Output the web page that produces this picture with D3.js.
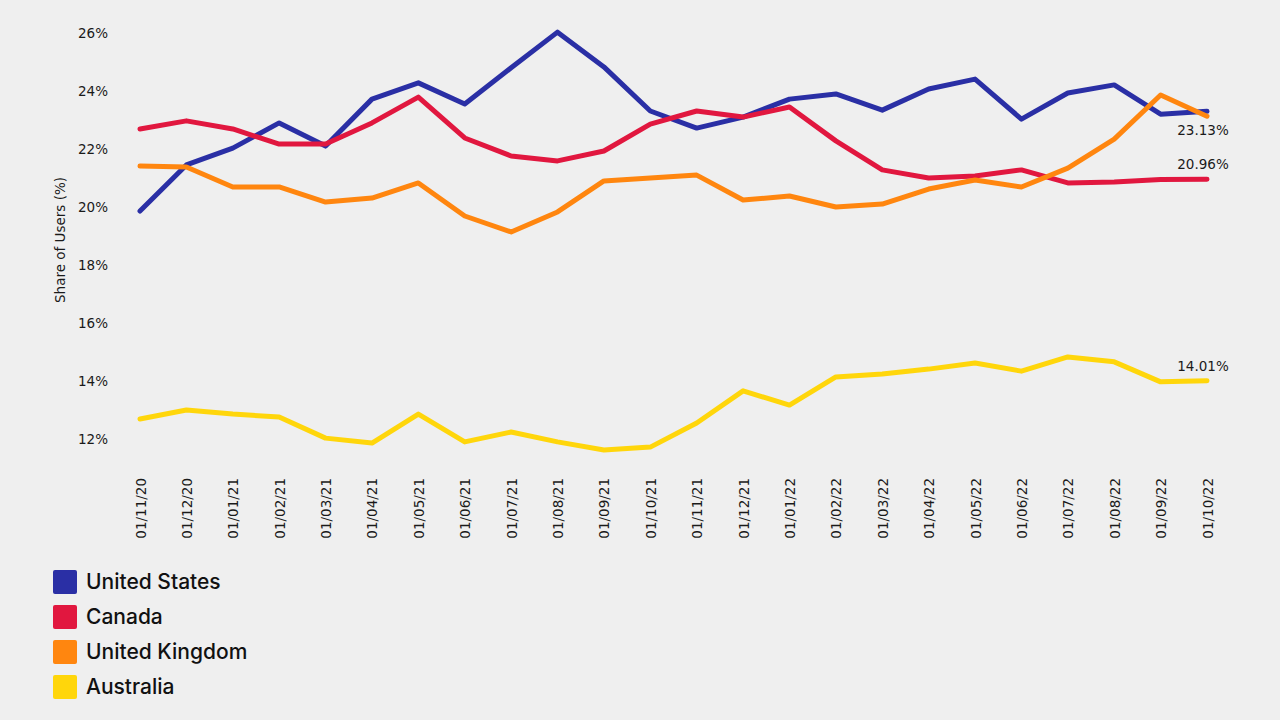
<!DOCTYPE html>
<html>
<head>
<meta charset="utf-8">
<script src="https://cdn.jsdelivr.net/npm/d3@7"></script>
<style>
  html, body { margin: 0; padding: 0; background: #efefef; }
  svg { display: block; }
</style>
</head>
<body>
<div id="chart"></div>
<script>
// monthly share of users by country
const months = ["01/11/20", "01/12/20", "01/01/21", "01/02/21", "01/03/21", "01/04/21",
  "01/05/21", "01/06/21", "01/07/21", "01/08/21", "01/09/21", "01/10/21", "01/11/21",
  "01/12/21", "01/01/22", "01/02/22", "01/03/22", "01/04/22", "01/05/22", "01/06/22",
  "01/07/22", "01/08/22", "01/09/22", "01/10/22"];

const unitedStates = [19.86, 21.45, 22.03, 22.9, 22.1, 23.72, 24.28, 23.55, 24.8, 26.03,
  24.83, 23.31, 22.72, 23.1, 23.72, 23.9, 23.34, 24.07, 24.41, 23.03, 23.93, 24.21, 23.2, 23.3];
const canada = [22.69, 22.97, 22.69, 22.17, 22.17, 22.9, 23.79, 22.38, 21.76, 21.59,
  21.93, 22.86, 23.31, 23.1, 23.45, 22.28, 21.28, 21.0, 21.07, 21.28, 20.83, 20.86, 20.95, 20.96];
const unitedKingdom = [21.41, 21.38, 20.69, 20.69, 20.17, 20.31, 20.83, 19.69, 19.14, 19.83,
  20.9, 21.0, 21.1, 20.24, 20.38, 20.0, 20.1, 20.62, 20.93, 20.69, 21.34, 22.34, 23.86, 23.13];
const australia = [12.69, 13.0, 12.86, 12.76, 12.03, 11.86, 12.86, 11.9, 12.24, 11.9,
  11.62, 11.72, 12.55, 13.66, 13.17, 14.14, 14.24, 14.41, 14.62, 14.34, 14.83, 14.66, 13.97, 14.01];

const seriesNames = ["United States", "Canada", "United Kingdom", "Australia"];
const seriesColors = ["#2a2fa5", "#e1173f", "#ff860f", "#ffd60b"];
const yTicks = [12, 14, 16, 18, 20, 22, 24, 26];
const endLabels = ["23.13%", "20.96%", "14.01%"];

const width = 1280, height = 720;
const series = [unitedStates, canada, unitedKingdom, australia];

const svg = d3.select("#chart")
  .append("svg")
  .attr("width", width)
  .attr("height", height);

const x = d3.scalePoint()
  .domain(months)
  .range([140, 1207]);

const y = d3.scaleLinear()
  .domain([12, 26])
  .range([439, 33]);

// y axis labels
svg.append("g")
  .attr("transform", "translate(108,0)")
  .call(d3.axisLeft(y).tickValues(yTicks).tickSize(0).tickPadding(0).tickFormat(d => d + "%"))
  .call(g => g.select(".domain").remove())
  .selectAll("text")
  .attr("font-family", "DejaVu Sans")
  .attr("font-size", 13.5)
  .attr("fill", "#1a1a1a");

svg.append("text")
  .attr("transform", "translate(65,240) rotate(-90)")
  .attr("text-anchor", "middle")
  .attr("font-family", "DejaVu Sans")
  .attr("font-size", 13.5)
  .attr("fill", "#1a1a1a")
  .text("Share of Users (%)");

// x axis labels, rotated
svg.append("g")
  .attr("transform", "translate(0,478)")
  .call(d3.axisBottom(x).tickSize(0).tickPadding(0))
  .call(g => g.select(".domain").remove())
  .selectAll("text")
  .attr("font-family", "DejaVu Sans")
  .attr("font-size", 13.5)
  .attr("fill", "#1a1a1a")
  .attr("text-anchor", "end")
  .attr("dy", null)
  .attr("y", 0)
  .attr("transform", "rotate(-90) translate(0,5)");

const line = d3.line()
  .x((d, i) => x(months[i]))
  .y(d => y(d));

svg.selectAll(".series")
  .data(series)
  .enter()
  .append("path")
  .attr("class", "series")
  .attr("d", d => line(d))
  .attr("fill", "none")
  .attr("stroke", (d, i) => seriesColors[i])
  .attr("stroke-width", 5)
  .attr("stroke-linejoin", "round")
  .attr("stroke-linecap", "round");

// end value labels (UK, Canada, Australia)
const labelled = [unitedKingdom, canada, australia];
const labelShift = [19, -10, -10];
svg.selectAll(".endlabel")
  .data(labelled)
  .enter()
  .append("text")
  .attr("class", "endlabel")
  .attr("x", x(months[months.length - 1]) - 4)
  .attr("y", (d, i) => y(d[d.length - 1]) + labelShift[i])
  .attr("text-anchor", "middle")
  .attr("font-family", "DejaVu Sans")
  .attr("font-size", 13.5)
  .attr("fill", "#1a1a1a")
  .text((d, i) => endLabels[i]);

// legend
const legend = svg.selectAll(".legend")
  .data(seriesNames)
  .enter()
  .append("g")
  .attr("class", "legend")
  .attr("transform", (d, i) => `translate(53, ${570 + i * 35})`);

legend.append("rect")
  .attr("width", 24)
  .attr("height", 24)
  .attr("rx", 2)
  .attr("fill", (d, i) => seriesColors[i]);

legend.append("text")
  .attr("x", 33)
  .attr("y", 12)
  .attr("dy", ".35em")
  .attr("font-family", "Inter")
  .attr("font-size", 21)
  .attr("font-weight", 500)
  .attr("fill", "#111")
  .text(d => d);
</script>
</body>
</html>
